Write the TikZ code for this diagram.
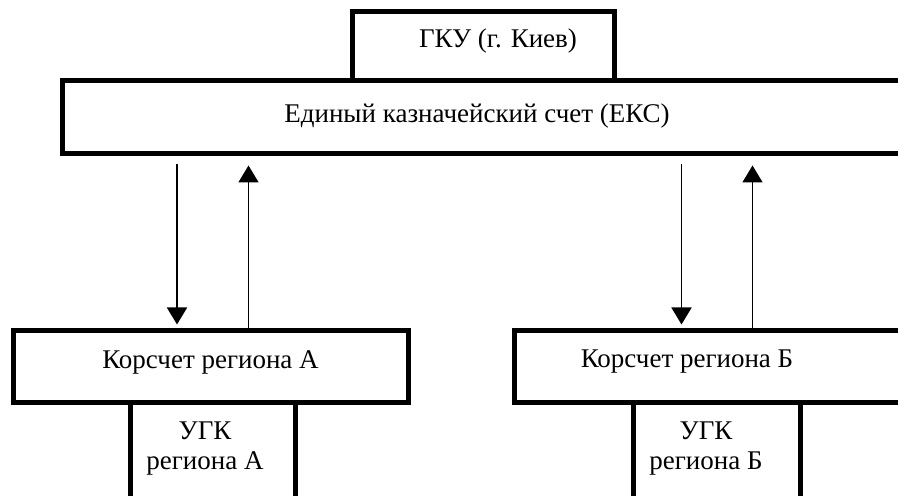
\documentclass[tikz,border=0pt]{standalone}
\usepackage{fontspec}
\setmainfont{Liberation Serif}
\usetikzlibrary{arrows.meta}

\begin{document}
\begin{tikzpicture} [
    x=0.5pt, y=-0.5pt,
    font=\fontsize{13.5}{15}\selectfont,
    box/.style  = { rectangle, draw, line width=2.5pt, inner sep=0pt },
    line/.style = { draw, line width=0.9pt, -{Triangle[width=10pt,length=8.5pt]} },
  ]
  \clip (0,0) rectangle (898,496);

  % boxes
  \node[box, minimum width=131pt, minimum height=34.75pt,
        label={[name=gkutext, shift={(14.5,-5)}]center:ГКУ (г. Киев)}]
        (gku) at (483.5,46.25) {};
  \node[box, minimum width=439pt, minimum height=36.5pt,
        label={[name=ekstext, shift={(-24,-1.5)}]center:Единый казначейский счет (ЕКС)}]
        (eks) at (501,117.5) {};
  \node[box, minimum width=197.5pt, minimum height=35.75pt,
        label={[name=koratext, shift={(0,-4)}]center:Корсчет региона А}]
        (kora) at (210.5,366.25) {};
  \node[box, minimum width=208pt, minimum height=36pt,
        label={[name=korbtext, shift={(-35,-4.5)}]center:Корсчет региона Б}]
        (korb) at (722,366.5) {};
  \node[box, minimum width=82.5pt, minimum height=69pt,
        label={[name=ugkatext, align=center, shift={(-8,-22)}]center:{УГК\\региона А}}]
        (ugka) at (213,471) {};
  \node[box, minimum width=83.5pt, minimum height=69pt,
        label={[name=ugkbtext, align=center, shift={(-11,-22)}]center:{УГК\\региона Б}}]
        (ugkb) at (717,471) {};

  % columns of the arrows
  \coordinate (downa) at (177,0);
  \coordinate (upa)   at (248.5,0);
  \coordinate (downb) at (681.5,0);
  \coordinate (upb)   at (752.5,0);

  % connect the nodes
  \path [line, shorten <=4pt, shorten >=1.75pt] (downa |- eks.south) -- (downa |- kora.north);
  \path [line, shorten >=4.5pt] (upa |- kora.north) -- (upa |- eks.south);
  \path [line, shorten <=4pt, shorten >=1.75pt] (downb |- eks.south) -- (downb |- korb.north);
  \path [line, shorten >=4.5pt] (upb |- korb.north) -- (upb |- eks.south);
\end{tikzpicture}
\end{document}
